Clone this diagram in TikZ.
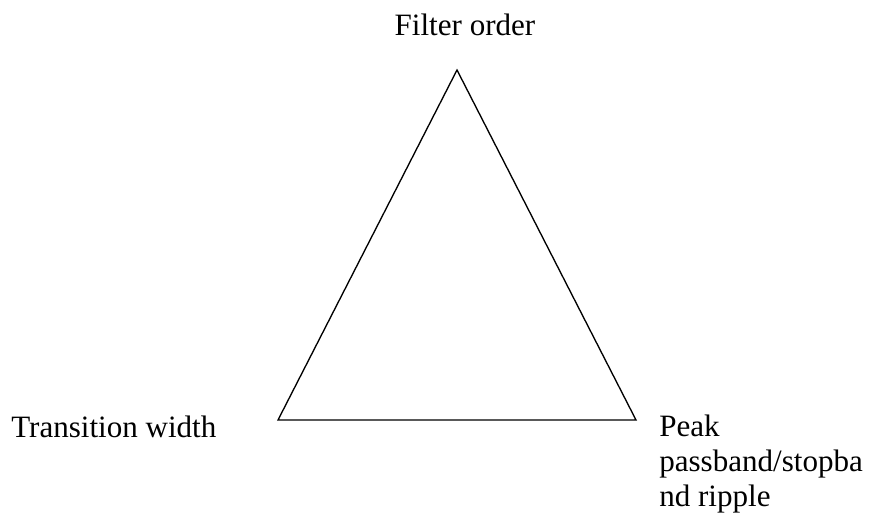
\documentclass[tikz,border=0pt]{standalone}
\usepackage{fontspec}
\setmainfont{Liberation Serif}
\begin{document}
\begin{tikzpicture}[x=0.75pt,y=-0.75pt,font=\fontsize{23.3}{25.9}\selectfont,
  corner/.style={anchor=base west,inner sep=0pt,align=left}]
  \useasboundingbox (0,0) rectangle (871,517);
  \coordinate (top) at (457,70);
  \coordinate (left) at (278,420);
  \coordinate (right) at (636,420);
  \draw[line width=1pt,line join=miter] (top) -- (right) -- (left) -- cycle;
  \node[anchor=base,inner sep=0pt] (order) at (465,36) {Filter order};
  \node[corner] (width) at (11,437) {Transition width};
  % base sits on the last line here
  \node[corner] (ripple) at (659,506) {Peak\\passband/stopba\\nd ripple};
\end{tikzpicture}
\end{document}
